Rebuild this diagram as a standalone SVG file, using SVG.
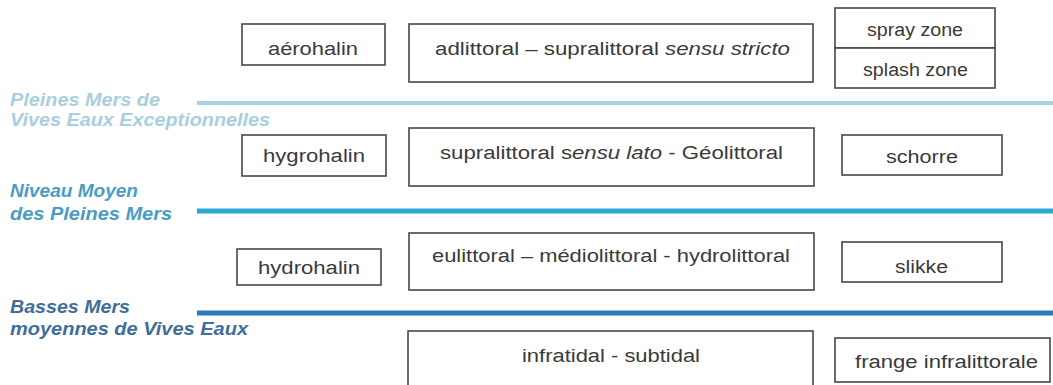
<svg xmlns="http://www.w3.org/2000/svg" width="1053" height="385" viewBox="0 0 1053 385">
<style>
.box{fill:#fff;stroke:#474747;stroke-width:1.6}
.t{font-family:"Liberation Sans",Arial,sans-serif;font-size:18px;fill:#3a3a3a}
.lv{font-family:"Liberation Sans",Arial,sans-serif;font-size:18px;font-weight:bold;font-style:italic}
.i{font-style:italic}
</style>
<rect width="1053" height="385" fill="#fff"/>
<g id="levels">
<line x1="197" y1="103" x2="1053" y2="103" stroke="#a9d3e2" stroke-width="4"/>
<line x1="197" y1="211" x2="1053" y2="211" stroke="#2aa9d6" stroke-width="5"/>
<line x1="197" y1="313" x2="1053" y2="313" stroke="#2b7bb9" stroke-width="5"/>
</g>
<g id="label-pmve">
<text class="lv" fill="#a8cfe0" x="10" y="106" textLength="150" lengthAdjust="spacingAndGlyphs">Pleines Mers de</text>
<text class="lv" fill="#a8cfe0" x="10" y="126" textLength="260" lengthAdjust="spacingAndGlyphs">Vives Eaux Exceptionnelles</text>
</g>
<g id="label-nmpm">
<text class="lv" fill="#4a9cc4" x="10" y="197" textLength="128" lengthAdjust="spacingAndGlyphs">Niveau Moyen</text>
<text class="lv" fill="#4a9cc4" x="10" y="220" textLength="162" lengthAdjust="spacingAndGlyphs">des Pleines Mers</text>
</g>
<g id="label-bmve">
<text class="lv" fill="#3e6e9a" x="10" y="313" textLength="120" lengthAdjust="spacingAndGlyphs">Basses Mers</text>
<text class="lv" fill="#3e6e9a" x="10" y="335" textLength="238" lengthAdjust="spacingAndGlyphs">moyennes de Vives Eaux</text>
</g>
<g id="aerohalin">
<rect class="box" x="242" y="24" width="143" height="41"/>
<text class="t" x="268" y="55" textLength="90" lengthAdjust="spacingAndGlyphs">aérohalin</text>
</g>
<g id="adlittoral">
<rect class="box" x="409" y="24" width="404" height="58"/>
<text class="t" x="435" y="55" textLength="355" lengthAdjust="spacingAndGlyphs">adlittoral – supralittoral <tspan class="i">sensu stricto</tspan></text>
</g>
<g id="spray">
<rect class="box" x="835" y="8" width="160" height="40"/>
<text class="t" x="867" y="36" textLength="96" lengthAdjust="spacingAndGlyphs">spray zone</text>
</g>
<g id="splash">
<rect class="box" x="835" y="48" width="160" height="40"/>
<text class="t" x="863" y="76" textLength="105" lengthAdjust="spacingAndGlyphs">splash zone</text>
</g>
<g id="hygrohalin">
<rect class="box" x="242" y="135" width="144" height="41"/>
<text class="t" x="263" y="162" textLength="102" lengthAdjust="spacingAndGlyphs">hygrohalin</text>
</g>
<g id="supralittoral">
<rect class="box" x="409" y="128" width="405" height="58"/>
<text class="t" x="440" y="159" textLength="343" lengthAdjust="spacingAndGlyphs">supralittoral s<tspan class="i">ensu lato</tspan> - Géolittoral</text>
</g>
<g id="schorre">
<rect class="box" x="842" y="135" width="160" height="40"/>
<text class="t" x="886" y="163" textLength="72" lengthAdjust="spacingAndGlyphs">schorre</text>
</g>
<g id="hydrohalin">
<rect class="box" x="237" y="249" width="144" height="36"/>
<text class="t" x="258" y="274" textLength="102" lengthAdjust="spacingAndGlyphs">hydrohalin</text>
</g>
<g id="eulittoral">
<rect class="box" x="409" y="233" width="405" height="57"/>
<text class="t" x="432" y="262" textLength="358" lengthAdjust="spacingAndGlyphs">eulittoral – médiolittoral - hydrolittoral</text>
</g>
<g id="slikke">
<rect class="box" x="842" y="242" width="160" height="40"/>
<text class="t" x="895" y="273" textLength="53" lengthAdjust="spacingAndGlyphs">slikke</text>
</g>
<g id="infratidal">
<rect class="box" x="408" y="331" width="405" height="64"/>
<text class="t" x="522" y="362" textLength="178" lengthAdjust="spacingAndGlyphs">infratidal - subtidal</text>
</g>
<g id="frange">
<rect class="box" x="835" y="338" width="215" height="44"/>
<text class="t" x="855" y="368" textLength="183" lengthAdjust="spacingAndGlyphs">frange infralittorale</text>
</g>
</svg>
